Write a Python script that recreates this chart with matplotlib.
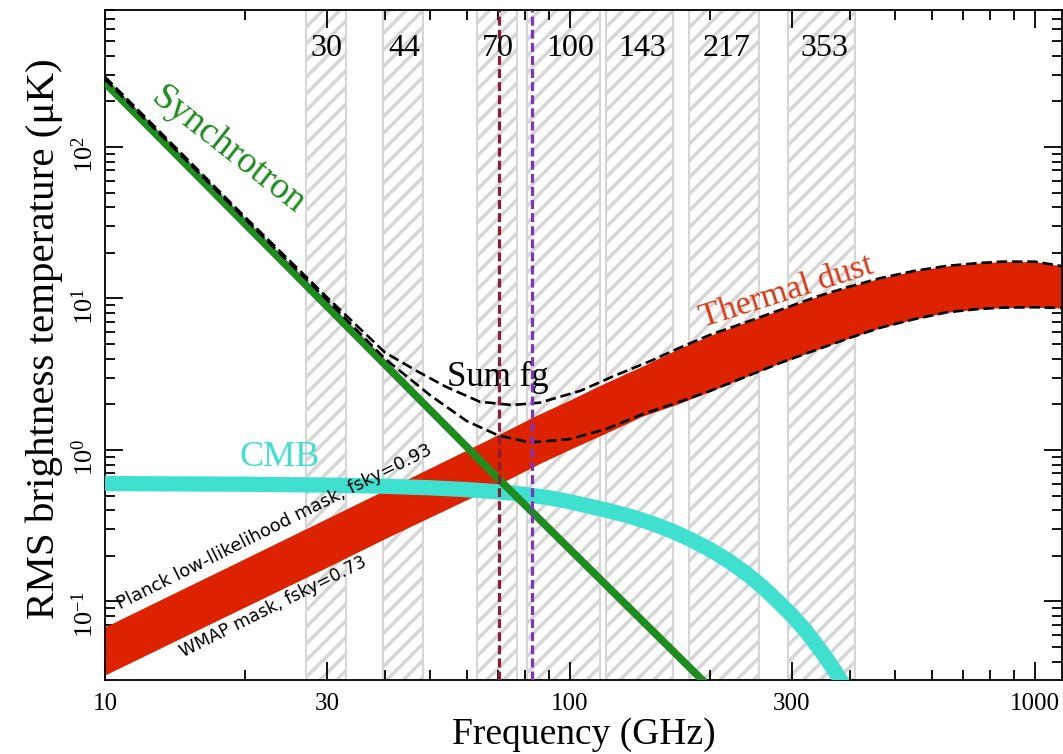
import numpy as np
import matplotlib
matplotlib.use('Agg')
import matplotlib.pyplot as plt
import matplotlib.transforms as mtransforms
from matplotlib.ticker import FixedLocator, FixedFormatter, LogLocator, NullFormatter

plt.rcParams['font.family'] = ['Liberation Serif', 'DejaVu Serif']
plt.rcParams['mathtext.fontset'] = 'custom'
plt.rcParams['mathtext.rm'] = 'Liberation Serif'
plt.rcParams['axes.unicode_minus'] = False
plt.rcParams['hatch.linewidth'] = 2.5

# Planck channels (GHz) and band edges
chan_names = ['30', '44', '70', '100', '143', '217', '353']
chan_freq = [30, 44, 70, 100, 143, 217, 353]
band_lo = [27.0, 39.6, 63.0, 81.0, 119.5, 180.0, 294.0]
band_hi = [33.0, 48.4, 77.0, 116.0, 166.5, 255.0, 411.0]

# thermal dust, two masks (upper: Planck low-l mask, lower: WMAP mask)
dust_freq = [10, 20, 30, 40, 50, 60, 70, 85, 100, 120, 143, 172, 200, 240, 283,
             340, 400, 464, 550, 646, 750, 850, 1000, 1150]
dust_upper = [0.068, 0.192, 0.353, 0.544, 0.76, 1.0, 1.26, 1.7, 2.14, 2.8, 3.57, 4.69,
              5.7, 7.0, 8.4, 10.3, 12.0, 13.6, 15.2, 16.4, 17.1, 17.5, 17.5, 16.3]
dust_lower = [0.0327, 0.092, 0.168, 0.26, 0.36, 0.47, 0.59, 0.8, 1.01, 1.30, 1.67, 2.03,
              2.44, 3.06, 3.75, 4.6, 5.5, 6.4, 7.3, 8.1, 8.5, 8.7, 8.75, 8.65]

# synchrotron
sync_freq = [10, 70, 200]
sync_temp = [265, 0.65, 0.027]

# CMB
cmb_freq = [10, 20, 30, 40, 50, 60, 70, 80, 90, 100, 110, 120, 135, 150, 165, 180,
            200, 220, 240, 260, 280, 300, 320, 340, 360, 380, 400]
cmb_temp = [0.600, 0.594, 0.586, 0.576, 0.563, 0.547, 0.530, 0.508, 0.484, 0.455,
            0.425, 0.400, 0.364, 0.328, 0.293, 0.260, 0.220, 0.184, 0.152, 0.124,
            0.100, 0.081, 0.065, 0.051, 0.040, 0.031, 0.024]

# total foregrounds for both masks
sum_hi_freq = [10, 20, 30, 40, 47, 54, 64, 75, 86, 105, 125, 150, 172, 200, 240, 283,
               340, 400, 464, 550, 646, 750, 850, 1000, 1150]
sum_hi = [290, 34.5, 10.2, 4.4, 3.3, 2.62, 2.08, 1.98, 2.05, 2.45, 3.1, 3.9, 4.72, 5.75,
          7.0, 8.4, 10.3, 12.0, 13.6, 15.2, 16.4, 17.1, 17.5, 17.5, 16.3]
sum_lo_freq = [10, 20, 30, 40, 50, 60, 70, 82, 100, 120, 143, 172, 200, 240, 283,
               340, 400, 464, 550, 646, 750, 850, 1000, 1150]
sum_lo = [280, 33.5, 9.8, 4.0, 2.3, 1.55, 1.25, 1.12, 1.18, 1.38, 1.72, 2.08, 2.45, 3.06,
          3.75, 4.6, 5.5, 6.4, 7.3, 8.1, 8.5, 8.7, 8.75, 8.65]

# foreground minimum frequencies
min_freq = [70.5, 83.0]
min_colors = ['#8b1e34', '#7b35c0']

xticks = [10, 30, 100, 300, 1000]

fig = plt.figure(figsize=(10.63, 7.54), dpi=100)
ax = fig.add_axes([105 / 1063, 74 / 754, 957 / 1063, 670 / 754])
ax.set_xscale('log')
ax.set_yscale('log')

for lo, hi in zip(band_lo, band_hi):
    ax.axvspan(lo, hi, facecolor='white', edgecolor='#d6d6d6', hatch='//', lw=1.5, zorder=0)

ax.fill_between(dust_freq, dust_lower, dust_upper, color='#dd2200', lw=0, zorder=2)
ax.plot(cmb_freq, cmb_temp, color='#40e0d0', lw=11, solid_capstyle='butt',
        solid_joinstyle='round', zorder=3)
ax.plot(sync_freq, sync_temp, color='#1e8c1e', lw=5.5, solid_capstyle='butt', zorder=4)
ax.plot(sum_hi_freq, sum_hi, color='black', ls=(0, (4, 1.8)), lw=1.9, zorder=5)
ax.plot(sum_lo_freq, sum_lo, color='black', ls=(0, (4, 1.8)), lw=1.9, zorder=5)

for f, c in zip(min_freq, min_colors):
    ax.axvline(f, color=c, ls=(0, (2.8, 1.3)), lw=2.3, zorder=6)

ax.set_xlim(10, 1143)
ax.set_ylim(0.0303, 802)

# channel labels along the top
trans = mtransforms.blended_transform_factory(ax.transData, ax.transAxes)
for f, name in zip(chan_freq, chan_names):
    ax.text(f, 0.943, name, transform=trans, ha='center', va='center', fontsize=23, zorder=7)

ax.text(18.4, 95, 'Synchrotron', color='#1e8c1e', fontsize=27, rotation=-38,
        rotation_mode='anchor', ha='center', va='center')
ax.text(293, 11.0, 'Thermal dust', color='#e03512', fontsize=24.5, rotation=17.5,
        rotation_mode='anchor', ha='center', va='center')
ax.text(69.8, 2.99, 'Sum fg', color='black', fontsize=25, ha='center', va='center')
ax.text(23.7, 0.885, 'CMB', color='#40e0d0', fontsize=26, ha='center', va='center')
ax.text(10.77, 0.088, 'Planck low-llikelihood mask, fsky=0.93', family='DejaVu Sans',
        fontsize=13, rotation=26.5, rotation_mode='anchor', ha='left', va='baseline')
ax.text(14.7, 0.0424, 'WMAP mask, fsky=0.73', family='DejaVu Sans',
        fontsize=12.5, rotation=26.5, rotation_mode='anchor', ha='left', va='baseline')

ax.xaxis.set_major_locator(FixedLocator(xticks))
ax.xaxis.set_major_formatter(FixedFormatter([str(t) for t in xticks]))
ax.xaxis.set_minor_locator(LogLocator(base=10, subs=np.arange(2, 10), numticks=20))
ax.xaxis.set_minor_formatter(NullFormatter())
ax.yaxis.set_major_locator(LogLocator(base=10, numticks=20))
ax.yaxis.set_minor_locator(LogLocator(base=10, subs=np.arange(2, 10), numticks=20))
ax.yaxis.set_minor_formatter(NullFormatter())

ax.tick_params(which='both', direction='in', top=True, right=True, width=1.3)
ax.tick_params(which='major', length=13)
ax.tick_params(which='minor', length=7)
ax.tick_params(axis='x', which='major', labelsize=18, pad=9)
ax.tick_params(axis='y', which='major', labelsize=19, pad=5, labelrotation=90)
for s in ax.spines.values():
    s.set_linewidth(1.3)

ax.set_xlabel('Frequency (GHz)', fontsize=27, labelpad=2)
ax.set_ylabel('RMS brightness temperature (μK)', fontsize=29.5, labelpad=6)
ax.yaxis.label.set_y(0.51)

fig.savefig('out.png', dpi=100)
